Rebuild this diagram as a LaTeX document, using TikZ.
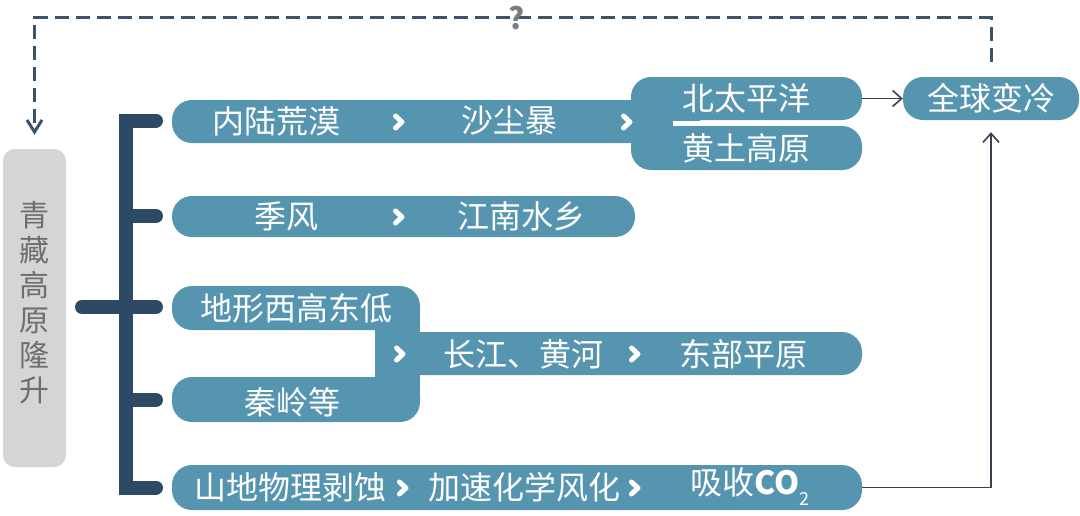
\documentclass[tikz,border=0pt]{standalone}
\usepackage{fontspec}
\newfontfamily\cjk{Noto Sans CJK SC}
\usetikzlibrary{arrows.meta,calc}
\definecolor{teal1}{HTML}{5695AF}
\definecolor{navy}{HTML}{2C4A66}
\definecolor{dashc}{HTML}{3D5368}
\definecolor{boxg}{HTML}{D4D5D7}
\definecolor{boxt}{HTML}{6E6E6E}
\definecolor{arrc}{HTML}{3A4150}
\begin{document}
\begin{tikzpicture}[x=1pt,y=-1pt,
 pill/.style={fill=teal1, rounded corners=20pt, inner sep=0pt, text=white, font=\cjk\fontsize{32}{36}\selectfont},
 txt/.style={inner sep=0pt, text=white, font=\cjk\fontsize{32}{36}\selectfont},
 chev/.style={white, line width=5pt, line cap=round, line join=round},
 brk/.style={navy, line width=14pt, line cap=round},
 arr/.style={arrc, line width=1.6pt, -{Straight Barb[length=9pt,width=16pt]}},
 dsh/.style={dashc, line width=3pt, dash pattern=on 14pt off 7pt, -{Straight Barb[length=12pt,width=15pt]}}]
\useasboundingbox (0,0) rectangle (1080,515);

% Tibet box
\node[fill=boxg, rounded corners=12pt, minimum width=63pt, minimum height=318pt, inner sep=0pt] (tibet) at (34.5,308) {};
\node[text=boxt, font=\cjk\fontsize{30}{35}\selectfont, align=center, inner sep=0pt] (tibettxt) at (34.5,303) {青\\藏\\高\\原\\隆\\升};

% bracket
\draw[brk, line join=miter, line cap=round] (156,120.5) -- (126,120.5) -- (126,487.5) -- (156,487.5);
\draw[brk] (126,216) -- (156,216);
\draw[brk] (82,307) -- (156,307);
\draw[brk] (126,400) -- (156,400);

% row 1
\node[pill, minimum width=528pt, minimum height=43pt] (r1) at (436,121.5) {};
\node[pill, minimum width=231pt, minimum height=43pt] (bt) at (746.5,98.5) {北太平洋};
\node[pill, minimum width=231pt, minimum height=44pt] (hg) at (746.5,148) {黄土高原};
\draw[white, line width=5pt] (673,123) -- (760,123);
\node[txt] (nl) at (276,121) {内陆荒漠};
\node[txt] (sc) at (509,121) {沙尘暴};

% global cooling
\node[pill, minimum width=176pt, minimum height=43pt] (qq) at (991,98.5) {全球变冷};

% row 2
\node[pill, minimum width=463pt, minimum height=41pt] (r2) at (403.5,216.5) {};
\node[txt] (jf) at (286,216) {季风};
\node[txt] (jn) at (521,216) {江南水乡};

% row 3
\node[pill, minimum width=462pt, minimum height=43pt] (cj) at (631,353.5) {};
\fill[teal1] (375,306) rectangle (420,402);
\node[pill, minimum width=248pt, minimum height=44pt] (dx) at (296,308) {地形西高东低};
\node[pill, minimum width=248pt, minimum height=45pt] (ql) at (296,399.5) {};
\node[txt] (qlt) at (292,402) {秦岭等};
\node[txt] (cjt) at (523,354) {长江、黄河};
\node[txt] (db) at (743,354) {东部平原};

% row 5
\node[pill, minimum width=690pt, minimum height=45pt] (r5) at (517,487.5) {};
\node[txt] (sd) at (290,487) {山地物理剥蚀};
\node[txt] (js) at (524,487) {加速化学风化};
\node[txt] (xs) at (750,487) {吸收{\bfseries CO}\raisebox{-11pt}{\fontsize{18}{18}\selectfont 2}};

% chevrons
\foreach \p in {(399,122),(627,122),(399,217),(400,354),(635,354),(403,488),(635,488)}
  \draw[chev] \p +(-3.5,-6) -- +(3,0) -- +(-3.5,6);

% arrows
\draw[arr] (bt.east) -- (qq.west);
\draw[arr] (r5.east) -| ([yshift=-12pt]qq.south);
\draw[dsh] ([yshift=15pt]qq.north) -- ++(0,-44) -| ([yshift=14pt]tibet.north);
\node[text=boxt!90, font=\cjk\bfseries\fontsize{30}{30}\selectfont, inner sep=0pt] (qm) at (517,18) {?};
\end{tikzpicture}
\end{document}
